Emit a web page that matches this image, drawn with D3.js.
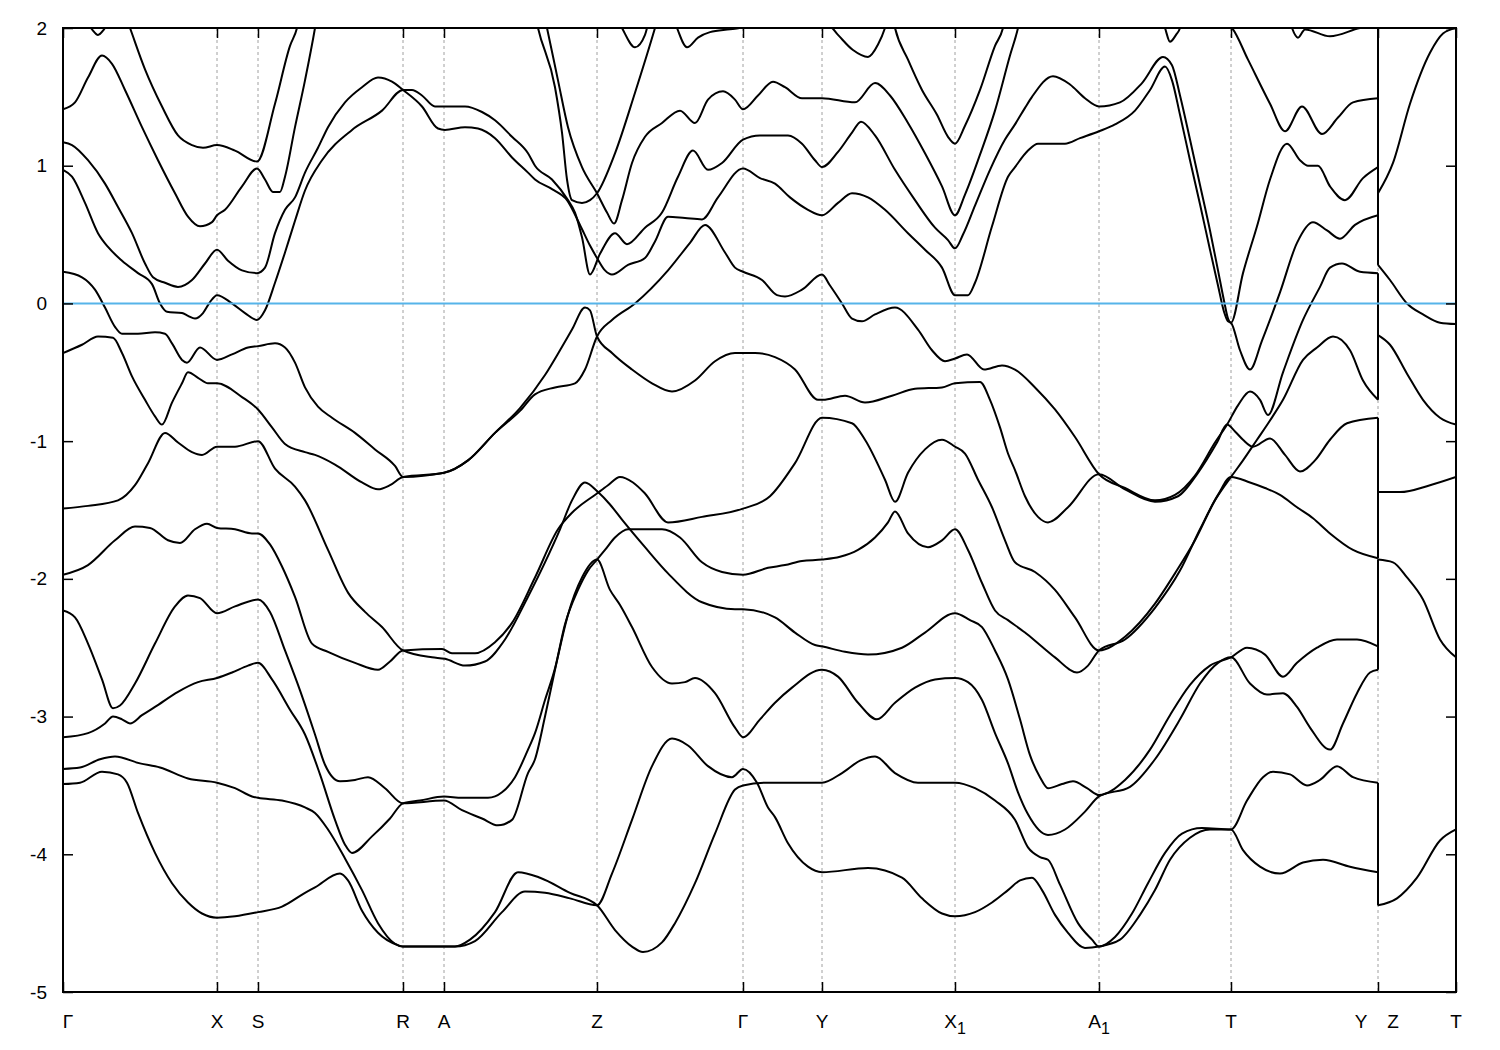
<!DOCTYPE html>
<html><head><meta charset="utf-8">
<script src="https://cdn.jsdelivr.net/npm/d3@7"></script>
<style>body{margin:0;background:#fff}</style>
</head><body>
<svg id="c" width="1500" height="1050"></svg>
<script>
// ---- high-symmetry path (path coordinate, arbitrary units) ----
const kTicks = [0, 0.154, 0.195, 0.340, 0.381, 0.534, 0.680, 0.759, 0.892, 1.036, 1.168, 1.315, 1.393];
const kLabels = ["Γ", "X", "S", "R", "A", "Z", "Γ", "Y", "X_1", "A_1", "T", "Y|Z", "T"];
const yTicks = [-5, -4, -3, -2, -1, 0, 1, 2];
const kBreak = 1.315;      // Y | Z discontinuity
const zDegeneracy = 2;     // bands along Z–T are pairwise degenerate

// ---- bands along Γ–X–S–R–A–Z–Γ–Y–X1–A1–T–Y : [k, E (eV)] ----
const band01 = [[0,-3.49],[.017,-3.48],[.039,-3.40],[.055,-3.42],[.064,-3.48],[.075,-3.70],[.092,-3.99],[.109,-4.21],[.125,-4.35],[.139,-4.43],[.154,-4.46],[.172,-4.45],[.195,-4.42],[.219,-4.38],[.242,-4.28],[.252,-4.24],[.277,-4.14],[.285,-4.19],[.299,-4.41],[.315,-4.57],[.335,-4.66],[.340,-4.67],[.381,-4.67],[.392,-4.67],[.407,-4.62],[.432,-4.42],[.455,-4.13],[.477,-4.17],[.507,-4.28],[.534,-4.37],[.552,-4.55],[.569,-4.67],[.580,-4.71],[.599,-4.64],[.612,-4.50],[.632,-4.21],[.652,-3.85],[.672,-3.53],[.680,-3.50],[.705,-3.48],[.722,-3.48],[.759,-3.48],[.779,-3.41],[.797,-3.32],[.812,-3.29],[.832,-3.41],[.855,-3.48],[.892,-3.48],[.912,-3.52],[.932,-3.61],[.952,-3.75],[.965,-3.95],[.977,-4.02],[.985,-4.04],[.997,-4.22],[1.015,-4.50],[1.029,-4.62],[1.036,-4.67],[1.052,-4.60],[1.069,-4.43],[1.085,-4.21],[1.102,-3.99],[1.119,-3.85],[1.139,-3.81],[1.168,-3.82],[1.184,-3.61],[1.200,-3.44],[1.210,-3.40],[1.227,-3.42],[1.244,-3.50],[1.257,-3.46],[1.274,-3.36],[1.290,-3.44],[1.315,-3.48]];
const band02 = [[0,-3.38],[.017,-3.37],[.037,-3.31],[.052,-3.29],[.077,-3.34],[.097,-3.37],[.125,-3.45],[.154,-3.48],[.172,-3.52],[.189,-3.58],[.195,-3.59],[.219,-3.61],[.242,-3.66],[.252,-3.70],[.265,-3.82],[.282,-4.03],[.299,-4.26],[.315,-4.50],[.332,-4.65],[.340,-4.67],[.381,-4.67],[.392,-4.67],[.412,-4.63],[.439,-4.42],[.462,-4.27],[.482,-4.28],[.507,-4.32],[.534,-4.37],[.549,-4.14],[.569,-3.75],[.589,-3.36],[.609,-3.16],[.625,-3.21],[.645,-3.36],[.669,-3.44],[.680,-3.38],[.694,-3.48],[.705,-3.66],[.712,-3.73],[.725,-3.92],[.745,-4.09],[.759,-4.13],[.805,-4.10],[.839,-4.17],[.859,-4.32],[.879,-4.43],[.892,-4.45],[.912,-4.42],[.929,-4.35],[.945,-4.26],[.957,-4.19],[.969,-4.17],[.979,-4.26],[.992,-4.44],[1.005,-4.57],[1.022,-4.68],[1.036,-4.67],[1.057,-4.62],[1.077,-4.44],[1.092,-4.26],[1.107,-4.04],[1.127,-3.88],[1.147,-3.82],[1.168,-3.82],[1.180,-3.97],[1.197,-4.09],[1.217,-4.14],[1.240,-4.06],[1.260,-4.04],[1.287,-4.09],[1.315,-4.13]];
const band03 = [[0,-3.15],[.025,-3.12],[.042,-3.05],[.050,-3.00],[.059,-3.02],[.067,-3.05],[.079,-2.99],[.092,-2.93],[.115,-2.82],[.135,-2.75],[.154,-2.72],[.169,-2.68],[.185,-2.63],[.195,-2.61],[.209,-2.73],[.227,-2.95],[.242,-3.13],[.257,-3.42],[.272,-3.75],[.282,-3.93],[.289,-3.99],[.309,-3.87],[.327,-3.74],[.340,-3.63],[.357,-3.61],[.381,-3.58],[.399,-3.59],[.425,-3.59],[.439,-3.55],[.452,-3.44],[.465,-3.24],[.472,-3.12],[.482,-2.88],[.492,-2.65],[.502,-2.33],[.515,-2.08],[.525,-1.94],[.534,-1.86],[.542,-1.79],[.552,-1.70],[.565,-1.64],[.599,-1.64],[.617,-1.70],[.639,-1.88],[.659,-1.95],[.680,-1.97],[.705,-1.92],[.722,-1.90],[.739,-1.87],[.759,-1.86],[.777,-1.84],[.795,-1.79],[.812,-1.70],[.825,-1.59],[.832,-1.51],[.845,-1.67],[.865,-1.77],[.879,-1.72],[.892,-1.64],[.905,-1.79],[.919,-2.03],[.932,-2.23],[.945,-2.30],[.962,-2.39],[.977,-2.48],[.992,-2.57],[1.014,-2.68],[1.025,-2.63],[1.036,-2.52],[1.062,-2.44],[1.092,-2.21],[1.117,-1.94],[1.137,-1.64],[1.155,-1.39],[1.168,-1.26],[1.187,-1.30],[1.202,-1.34],[1.217,-1.39],[1.234,-1.48],[1.250,-1.56],[1.267,-1.67],[1.290,-1.79],[1.315,-1.85]];
const band04 = [[0,-2.23],[.012,-2.28],[.025,-2.47],[.039,-2.73],[.050,-2.94],[.057,-2.92],[.072,-2.76],[.092,-2.47],[.112,-2.20],[.125,-2.12],[.137,-2.14],[.154,-2.25],[.172,-2.20],[.195,-2.15],[.207,-2.24],[.222,-2.52],[.237,-2.81],[.252,-3.13],[.262,-3.35],[.277,-3.47],[.292,-3.46],[.305,-3.44],[.322,-3.52],[.340,-3.63],[.381,-3.61],[.399,-3.68],[.419,-3.74],[.435,-3.79],[.449,-3.75],[.465,-3.41],[.472,-3.31],[.482,-3.00],[.492,-2.66],[.505,-2.26],[.519,-1.99],[.534,-1.86],[.547,-2.08],[.557,-2.19],[.569,-2.35],[.589,-2.64],[.609,-2.76],[.622,-2.75],[.632,-2.72],[.652,-2.83],[.672,-3.08],[.680,-3.15],[.697,-3.02],[.712,-2.90],[.729,-2.79],[.759,-2.66],[.775,-2.71],[.795,-2.90],[.814,-3.02],[.832,-2.90],[.852,-2.79],[.872,-2.73],[.892,-2.72],[.905,-2.75],[.919,-2.88],[.932,-3.12],[.945,-3.34],[.955,-3.55],[.965,-3.71],[.985,-3.86],[1.002,-3.82],[1.022,-3.69],[1.036,-3.58],[1.067,-3.51],[1.092,-3.31],[1.117,-3.02],[1.137,-2.76],[1.155,-2.61],[1.168,-2.57],[1.187,-2.76],[1.204,-2.84],[1.220,-2.83],[1.234,-2.93],[1.247,-3.08],[1.267,-3.24],[1.280,-3.05],[1.294,-2.83],[1.307,-2.68],[1.315,-2.66]];
const band05 = [[0,-1.97],[.025,-1.90],[.052,-1.72],[.072,-1.62],[.087,-1.63],[.105,-1.72],[.117,-1.74],[.132,-1.64],[.144,-1.60],[.154,-1.63],[.172,-1.64],[.189,-1.67],[.195,-1.67],[.207,-1.75],[.219,-1.91],[.232,-2.13],[.249,-2.47],[.265,-2.53],[.292,-2.61],[.315,-2.66],[.327,-2.60],[.340,-2.52],[.379,-2.51],[.389,-2.54],[.412,-2.54],[.432,-2.46],[.449,-2.32],[.472,-1.99],[.495,-1.64],[.509,-1.52],[.534,-1.38],[.545,-1.32],[.557,-1.26],[.570,-1.30],[.582,-1.38],[.605,-1.59],[.639,-1.55],[.680,-1.49],[.707,-1.40],[.732,-1.16],[.759,-0.83],[.789,-0.87],[.802,-0.99],[.822,-1.28],[.832,-1.44],[.845,-1.23],[.862,-1.06],[.879,-0.99],[.892,-1.04],[.902,-1.09],[.915,-1.28],[.929,-1.48],[.942,-1.72],[.952,-1.88],[.972,-1.95],[.992,-2.08],[1.012,-2.28],[1.036,-2.52],[1.062,-2.42],[1.092,-2.18],[1.112,-1.96],[1.132,-1.72],[1.152,-1.43],[1.168,-1.26],[1.180,-1.14],[1.194,-0.99],[1.207,-0.85],[1.220,-0.70],[1.240,-0.41],[1.254,-0.32],[1.270,-0.24],[1.287,-0.34],[1.300,-0.56],[1.315,-0.70]];
const band06 = [[0,-1.49],[.025,-1.47],[.055,-1.43],[.072,-1.32],[.085,-1.16],[.102,-0.94],[.115,-1.01],[.129,-1.08],[.139,-1.10],[.154,-1.04],[.172,-1.04],[.195,-1.00],[.212,-1.20],[.232,-1.33],[.242,-1.43],[.265,-1.79],[.285,-2.10],[.302,-2.24],[.319,-2.35],[.340,-2.52],[.369,-2.57],[.382,-2.58],[.402,-2.63],[.422,-2.60],[.442,-2.44],[.465,-2.13],[.482,-1.88],[.497,-1.64],[.509,-1.43],[.522,-1.30],[.535,-1.37],[.547,-1.46],[.559,-1.57],[.582,-1.77],[.605,-1.96],[.639,-2.17],[.672,-2.22],[.680,-2.22],[.712,-2.28],[.732,-2.39],[.752,-2.48],[.759,-2.49],[.782,-2.53],[.805,-2.55],[.839,-2.50],[.862,-2.39],[.892,-2.25],[.907,-2.30],[.919,-2.35],[.932,-2.52],[.945,-2.73],[.957,-3.02],[.967,-3.28],[.977,-3.44],[.985,-3.52],[.999,-3.49],[1.010,-3.47],[1.024,-3.52],[1.036,-3.57],[1.062,-3.46],[1.087,-3.24],[1.107,-2.99],[1.127,-2.77],[1.147,-2.63],[1.168,-2.57],[1.184,-2.50],[1.202,-2.55],[1.220,-2.71],[1.234,-2.61],[1.254,-2.50],[1.274,-2.44],[1.294,-2.44],[1.315,-2.49]];
const band07 = [[0,-0.36],[.019,-0.30],[.035,-0.24],[.050,-0.25],[.059,-0.36],[.069,-0.53],[.082,-0.70],[.092,-0.82],[.099,-0.88],[.109,-0.72],[.119,-0.58],[.125,-0.50],[.135,-0.54],[.145,-0.58],[.154,-0.58],[.179,-0.68],[.195,-0.77],[.209,-0.90],[.222,-1.02],[.242,-1.08],[.252,-1.10],[.272,-1.17],[.299,-1.30],[.315,-1.35],[.327,-1.32],[.340,-1.26],[.381,-1.23],[.405,-1.14],[.432,-0.94],[.457,-0.78],[.472,-0.66],[.492,-0.61],[.512,-0.58],[.522,-0.48],[.534,-0.24],[.549,-0.12],[.572,0.0],[.605,0.24],[.627,0.44],[.642,0.57],[.662,0.37],[.672,0.26],[.680,0.23],[.699,0.17],[.714,0.06],[.722,0.05],[.739,0.10],[.759,0.21],[.767,0.13],[.779,0.0],[.789,-0.11],[.799,-0.13],[.812,-0.08],[.832,-0.03],[.855,-0.19],[.869,-0.34],[.882,-0.42],[.892,-0.40],[.904,-0.37],[.921,-0.48],[.939,-0.45],[.952,-0.48],[.972,-0.61],[.992,-0.77],[1.012,-0.97],[1.036,-1.24],[1.062,-1.34],[1.092,-1.43],[1.112,-1.39],[1.132,-1.25],[1.152,-1.01],[1.164,-0.88],[1.175,-0.74],[1.187,-0.64],[1.197,-0.70],[1.205,-0.81],[1.220,-0.50],[1.240,-0.12],[1.257,0.12],[1.267,0.26],[1.279,0.29],[1.297,0.23],[1.315,0.22]];
const band08 = [[0,0.23],[.019,0.19],[.032,0.10],[.042,-0.03],[.052,-0.17],[.059,-0.22],[.075,-0.22],[.092,-0.21],[.102,-0.22],[.109,-0.29],[.119,-0.41],[.124,-0.43],[.137,-0.32],[.154,-0.41],[.169,-0.37],[.185,-0.32],[.195,-0.31],[.212,-0.29],[.222,-0.32],[.232,-0.43],[.242,-0.61],[.255,-0.75],[.269,-0.83],[.292,-0.94],[.312,-1.06],[.332,-1.18],[.340,-1.26],[.381,-1.23],[.405,-1.14],[.432,-0.94],[.457,-0.76],[.482,-0.52],[.497,-0.34],[.509,-0.19],[.522,-0.03],[.527,-0.05],[.534,-0.24],[.549,-0.36],[.569,-0.48],[.589,-0.58],[.609,-0.64],[.632,-0.56],[.652,-0.42],[.672,-0.36],[.692,-0.36],[.712,-0.39],[.732,-0.48],[.755,-0.70],[.760,-0.70],[.782,-0.67],[.802,-0.72],[.829,-0.67],[.852,-0.62],[.879,-0.61],[.892,-0.58],[.917,-0.57],[.927,-0.70],[.937,-0.90],[.945,-1.09],[.952,-1.21],[.962,-1.40],[.975,-1.55],[.985,-1.59],[1.005,-1.48],[1.036,-1.24],[1.062,-1.35],[1.092,-1.44],[1.115,-1.40],[1.135,-1.23],[1.154,-1.01],[1.164,-0.88],[1.172,-0.93],[1.180,-0.99],[1.190,-1.04],[1.207,-0.98],[1.222,-1.10],[1.237,-1.22],[1.252,-1.14],[1.267,-0.99],[1.284,-0.87],[1.315,-0.83]];
const band09 = [[0,1.17],[.009,1.15],[.025,1.04],[.042,0.87],[.055,0.70],[.069,0.51],[.082,0.29],[.090,0.19],[.102,0.15],[.115,0.12],[.129,0.17],[.142,0.29],[.154,0.39],[.165,0.31],[.179,0.24],[.194,0.22],[.202,0.26],[.212,0.51],[.222,0.68],[.232,0.77],[.242,0.95],[.255,1.13],[.265,1.28],[.282,1.46],[.299,1.57],[.315,1.64],[.329,1.61],[.340,1.55],[.359,1.43],[.375,1.27],[.382,1.26],[.402,1.28],[.415,1.27],[.432,1.20],[.449,1.06],[.465,0.95],[.472,0.90],[.489,0.83],[.504,0.75],[.517,0.57],[.527,0.42],[.534,0.33],[.542,0.24],[.549,0.21],[.565,0.28],[.582,0.33],[.592,0.45],[.605,0.63],[.622,0.62],[.639,0.61],[.655,0.77],[.680,0.98],[.697,0.91],[.712,0.87],[.727,0.77],[.745,0.68],[.759,0.64],[.775,0.73],[.789,0.80],[.805,0.77],[.822,0.68],[.845,0.51],[.862,0.39],[.879,0.26],[.892,0.06],[.905,0.06],[.912,0.15],[.929,0.56],[.945,0.92],[.952,0.99],[.965,1.11],[.975,1.16],[1.002,1.16],[1.017,1.20],[1.036,1.25],[1.052,1.30],[1.072,1.40],[1.087,1.55],[1.102,1.72],[1.109,1.62],[1.117,1.37],[1.127,1.04],[1.137,0.72],[1.147,0.39],[1.155,0.13],[1.161,-0.06],[1.165,-0.13],[1.168,-0.14],[1.177,-0.34],[1.187,-0.48],[1.199,-0.27],[1.217,0.08],[1.234,0.44],[1.250,0.59],[1.264,0.53],[1.277,0.47],[1.292,0.57],[1.315,0.64]];
const band10 = [[0,0.97],[.009,0.92],[.022,0.73],[.035,0.51],[.045,0.41],[.059,0.31],[.075,0.22],[.089,0.14],[.097,0.0],[.104,-0.06],[.119,-0.07],[.125,-0.09],[.132,-0.11],[.140,-0.07],[.147,0.01],[.154,0.06],[.169,0.0],[.182,-0.07],[.194,-0.12],[.202,-0.05],[.212,0.15],[.222,0.37],[.232,0.60],[.242,0.82],[.259,1.04],[.289,1.26],[.319,1.40],[.340,1.55],[.349,1.55],[.359,1.51],[.372,1.43],[.382,1.43],[.402,1.43],[.419,1.39],[.432,1.33],[.449,1.21],[.465,1.09],[.472,1.0],[.489,0.90],[.505,0.75],[.512,0.66],[.519,0.48],[.527,0.21],[.537,0.36],[.552,0.51],[.564,0.43],[.582,0.55],[.599,0.66],[.615,0.92],[.630,1.11],[.645,0.97],[.659,1.02],[.680,1.19],[.697,1.22],[.725,1.22],[.739,1.16],[.752,1.04],[.759,0.99],[.775,1.10],[.789,1.24],[.798,1.32],[.812,1.22],[.832,0.97],[.852,0.75],[.872,0.55],[.885,0.46],[.892,0.40],[.900,0.50],[.912,0.71],[.927,0.97],[.942,1.19],[.952,1.30],[.962,1.42],[.969,1.50],[.990,1.65],[1.007,1.59],[1.022,1.49],[1.036,1.43],[1.057,1.46],[1.079,1.60],[1.100,1.79],[1.109,1.73],[1.117,1.51],[1.127,1.19],[1.137,0.86],[1.147,0.53],[1.155,0.24],[1.161,0.02],[1.165,-0.11],[1.168,-0.14],[1.180,0.22],[1.194,0.56],[1.207,0.90],[1.224,1.16],[1.237,1.04],[1.245,1.0],[1.255,1.0],[1.267,0.85],[1.282,0.75],[1.300,0.91],[1.315,0.99]];
const band11 = [[0,1.41],[.012,1.46],[.025,1.64],[.039,1.80],[.049,1.74],[.062,1.55],[.079,1.28],[.095,1.04],[.112,0.80],[.125,0.63],[.137,0.56],[.149,0.59],[.154,0.64],[.162,0.68],[.179,0.85],[.194,0.98],[.202,0.90],[.210,0.81],[.217,0.81],[.222,0.92],[.232,1.28],[.242,1.62],[.252,2.0],[.255,2.13]];
const band12 = [[.062,2.10],[.067,2.0],[.082,1.70],[.099,1.43],[.115,1.22],[.129,1.15],[.140,1.13],[.154,1.15],[.172,1.11],[.194,1.03],[.212,1.45],[.227,1.87],[.234,2.0],[.237,2.10]];
const band13 = [[.022,2.06],[.029,1.99],[.035,1.95],[.041,1.99],[.047,2.06]];
const band14 = [[.472,2.10],[.475,2.0],[.492,1.57],[.499,1.24],[.504,0.90],[.509,0.75],[.519,0.73],[.527,0.75],[.534,0.80],[.552,1.09],[.572,1.53],[.592,2.0],[.596,2.10]];
const band15 = [[.481,2.10],[.484,2.0],[.495,1.62],[.505,1.28],[.519,0.99],[.534,0.80],[.544,0.66],[.551,0.58],[.559,0.75],[.569,1.02],[.582,1.21],[.599,1.31],[.617,1.40],[.632,1.31],[.645,1.48],[.660,1.54],[.672,1.48],[.680,1.41],[.695,1.51],[.710,1.61],[.722,1.57],[.739,1.49],[.759,1.49],[.792,1.46],[.812,1.60],[.827,1.51],[.845,1.31],[.862,1.09],[.879,0.85],[.892,0.64],[.902,0.79],[.917,1.08],[.932,1.40],[.947,1.80],[.955,2.0],[.958,2.10]];
const band16 = [[.552,2.10],[.559,2.0],[.572,1.86],[.582,1.95],[.587,2.10]];
const band17 = [[.609,2.10],[.614,2.0],[.624,1.86],[.635,1.93],[.647,1.97],[.667,1.99],[.687,2.01],[.737,2.04],[.767,2.01],[.775,1.95],[.790,1.84],[.805,1.79],[.815,1.88],[.822,2.0],[.826,2.10]];
const band18 = [[.829,2.10],[.832,2.0],[.845,1.77],[.859,1.55],[.874,1.37],[.885,1.21],[.892,1.16],[.902,1.29],[.917,1.55],[.932,1.87],[.940,2.0],[.943,2.10]];
const band19 = [[1.097,2.10],[1.102,2.0],[1.107,1.90],[1.113,1.95],[1.117,2.0],[1.120,2.10]];
const band20 = [[1.152,2.10],[1.162,2.04],[1.169,2.0],[1.185,1.77],[1.207,1.45],[1.222,1.25],[1.239,1.43],[1.259,1.23],[1.275,1.35],[1.290,1.46],[1.315,1.49]];
const band21 = [[1.225,2.10],[1.229,2.0],[1.235,1.93],[1.242,1.99],[1.267,1.94],[1.297,2.0],[1.315,2.02]];

// ---- bands along Z–T ----
const zBand1 = [[1.315,0.80],[1.330,1.02],[1.347,1.45],[1.367,1.82],[1.380,1.96],[1.393,2.0]];
const zBand2 = [[1.315,0.28],[1.327,0.17],[1.344,0.0],[1.360,-0.08],[1.377,-0.14],[1.393,-0.15]];
const zBand3 = [[1.315,-0.23],[1.327,-0.30],[1.344,-0.51],[1.360,-0.70],[1.377,-0.83],[1.393,-0.88]];
const zBand4 = [[1.315,-1.37],[1.337,-1.37],[1.367,-1.32],[1.393,-1.26]];
const zBand5 = [[1.315,-1.86],[1.330,-1.88],[1.344,-1.99],[1.360,-2.15],[1.377,-2.44],[1.393,-2.57]];
const zBand6 = [[1.315,-4.37],[1.334,-4.32],[1.354,-4.17],[1.377,-3.90],[1.393,-3.82]];

const mainBands = [band01,band02,band03,band04,band05,band06,band07,band08,band09,band10,band11,band12,band13,band14,band15,band16,band17,band18,band19,band20,band21];
const zBands = [zBand1,zBand2,zBand3,zBand4,zBand5,zBand6];

// ---- drawing ----
const W = 1500, H = 1050;
const M = {left: 63, right: 1456, top: 28, bottom: 992};
const x = d3.scaleLinear().domain([kTicks[0], kTicks[kTicks.length-1]]).range([M.left, M.right]);
const y = d3.scaleLinear().domain([yTicks[0], yTicks[yTicks.length-1]]).range([M.bottom, M.top]);
const svg = d3.select("#c");
const FONT = "'Liberation Sans', Arial, sans-serif";

svg.append("rect").attr("width", W).attr("height", H).attr("fill", "#fff");
svg.append("defs").append("clipPath").attr("id", "plotclip")
  .append("rect").attr("x", M.left).attr("y", M.top).attr("width", M.right - M.left).attr("height", M.bottom - M.top);

// dashed vertical lines at high-symmetry points
svg.append("g").selectAll("line").data(kTicks.slice(1, -1)).join("line")
  .attr("x1", d => x(d)).attr("x2", d => x(d)).attr("y1", M.top).attr("y2", M.bottom)
  .attr("stroke", "#a0a0a0").attr("stroke-width", 1).attr("stroke-dasharray", "3,3");

const plot = svg.append("g").attr("clip-path", "url(#plotclip)");
const line = d3.line().x(d => x(d[0])).y(d => y(d[1])).curve(d3.curveMonotoneX);

plot.selectAll("path.band").data(mainBands.concat(zBands)).join("path")
  .attr("class", "band").attr("d", line)
  .attr("fill", "none").attr("stroke", "#000").attr("stroke-width", 2).attr("stroke-linejoin", "round");

// vertical jumps at the Y|Z discontinuity (band index order)
const leftEnds = mainBands.filter(b => Math.abs(b[b.length-1][0] - kBreak) < 1e-9).map(b => b[b.length-1][1]).sort(d3.ascending);
const rightStarts = zBands.flatMap(b => d3.range(zDegeneracy).map(() => b[0][1])).sort(d3.ascending);
const jumps = d3.zip(leftEnds, rightStarts);
plot.selectAll("line.jump").data(jumps).join("line").attr("class", "jump")
  .attr("x1", x(kBreak)).attr("x2", x(kBreak))
  .attr("y1", d => y(d[0])).attr("y2", d => y(d[1]))
  .attr("stroke", "#000").attr("stroke-width", 2);

// Fermi level
svg.append("line").attr("x1", M.left).attr("x2", M.right).attr("y1", y(0)).attr("y2", y(0))
  .attr("stroke", "#56B4E9").attr("stroke-width", 2);

// axes (ticks inward)
function styleAxis(g) {
  g.select(".domain").remove();
  g.selectAll(".tick line").attr("stroke", "#000").attr("stroke-width", 1.5);
  g.selectAll("text").attr("font-family", FONT).attr("font-size", 19).attr("fill", "#000");
}
svg.append("g").attr("transform", `translate(${M.left},0)`)
  .call(d3.axisLeft(y).tickValues(yTicks).tickSize(-10).tickPadding(16).tickFormat(d => String(d)))
  .call(styleAxis);
svg.append("g").attr("transform", `translate(${M.right},0)`)
  .call(d3.axisRight(y).tickValues(yTicks).tickSize(-10).tickFormat(""))
  .call(styleAxis);
svg.append("g").attr("transform", `translate(0,${M.bottom})`)
  .call(d3.axisBottom(x).tickValues(kTicks).tickSize(-10).tickFormat(""))
  .call(styleAxis);
svg.append("g").attr("transform", `translate(0,${M.top})`)
  .call(d3.axisTop(x).tickValues(kTicks).tickSize(-10).tickFormat(""))
  .call(styleAxis);

// frame
svg.append("rect").attr("x", M.left).attr("y", M.top).attr("width", M.right - M.left).attr("height", M.bottom - M.top)
  .attr("fill", "none").attr("stroke", "#000").attr("stroke-width", 2);

// k-point labels
const lab = svg.append("g").attr("font-family", FONT).attr("font-size", 19).attr("fill", "#000");
kTicks.forEach((k, i) => {
  const s = kLabels[i];
  const cx = x(k) + (i === 0 ? 5 : 0);
  if (s.includes("|")) {
    const [a, b] = s.split("|");
    lab.append("text").attr("x", cx - 17).attr("y", 1028).attr("text-anchor", "middle").text(a);
    lab.append("text").attr("x", cx + 15).attr("y", 1028).attr("text-anchor", "middle").text(b);
  } else if (s.includes("_")) {
    const [a, b] = s.split("_");
    const t = lab.append("text").attr("x", cx).attr("y", 1028).attr("text-anchor", "middle");
    t.append("tspan").text(a);
    t.append("tspan").attr("dy", 6).attr("font-size", 16).text(b);
  } else {
    lab.append("text").attr("x", cx).attr("y", 1028).attr("text-anchor", "middle").text(s);
  }
});
</script>
</body></html>
